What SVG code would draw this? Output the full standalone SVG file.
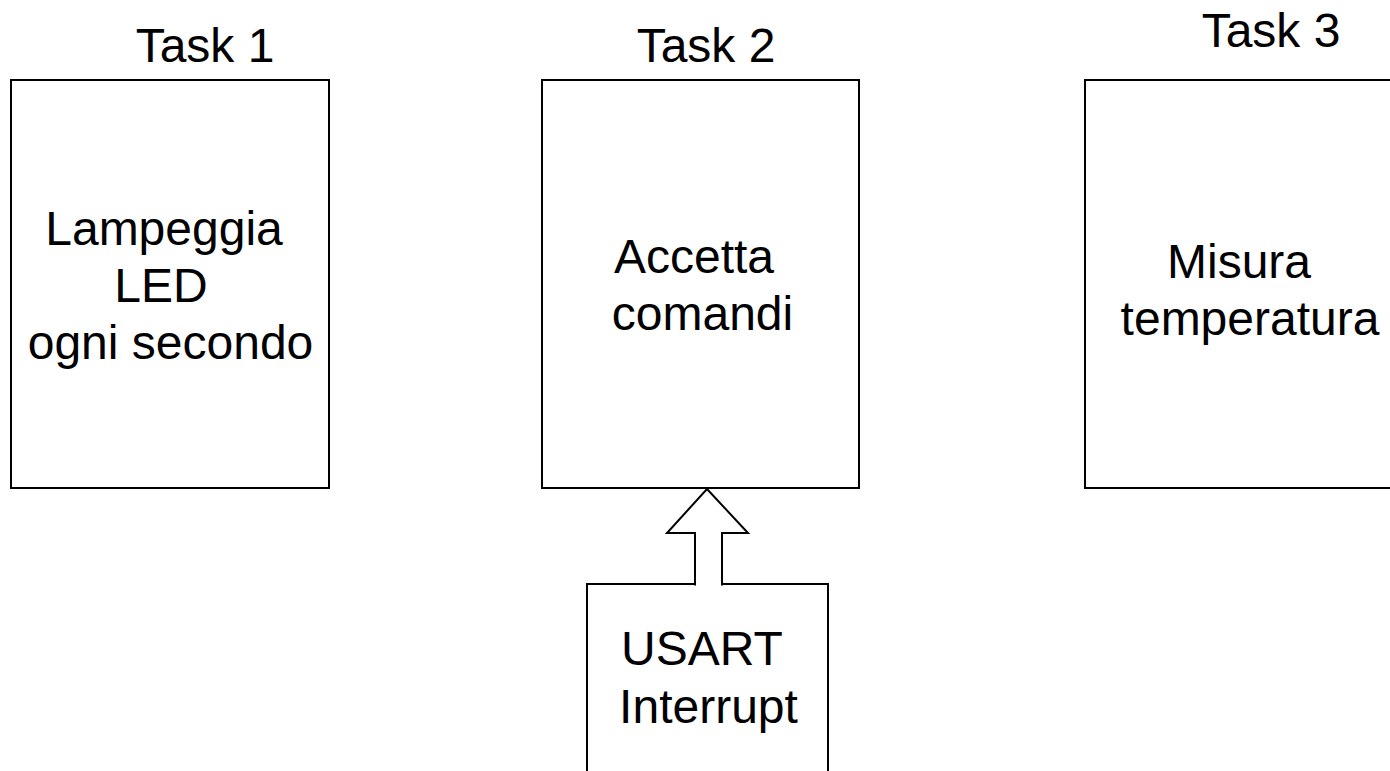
<svg xmlns="http://www.w3.org/2000/svg" width="1390" height="771" viewBox="0 0 1390 771">
<style>
.box{fill:#fff;stroke:#000;stroke-width:2}
.t{font-family:"Liberation Sans",Arial,sans-serif;font-size:48px;fill:#000;text-anchor:middle}
</style>
<rect width="1390" height="771" fill="#fff"/>
<g id="task1">
<text class="t" x="205" y="62">Task 1</text>
<rect class="box" x="11" y="80" width="318" height="408"/>
<text class="t" x="164" y="245">Lampeggia</text>
<text class="t" x="161" y="302">LED</text>
<text class="t" x="170.5" y="359">ogni secondo</text>
</g>
<g id="task2">
<text class="t" x="706" y="62">Task 2</text>
<rect class="box" x="542" y="80" width="317" height="408"/>
<text class="t" x="694" y="273">Accetta</text>
<text class="t" x="702.5" y="330">comandi</text>
</g>
<g id="task3">
<text class="t" x="1271" y="47">Task 3</text>
<rect class="box" x="1085" y="80" width="330" height="408"/>
<text class="t" x="1239" y="278">Misura</text>
<text class="t" x="1250" y="335">temperatura</text>
</g>
<g id="usart">
<rect class="box" x="587" y="584" width="241" height="220"/>
<text class="t" x="702" y="665">USART</text>
<text class="t" x="708.5" y="723">Interrupt</text>
</g>
<g id="connectors">
<path d="M695,585.5 L695,533 L667,533 L707,489 L748,533 L722,533 L722,585.5" fill="#fff" stroke="#000" stroke-width="2" stroke-linejoin="miter"/>
</g>
</svg>
